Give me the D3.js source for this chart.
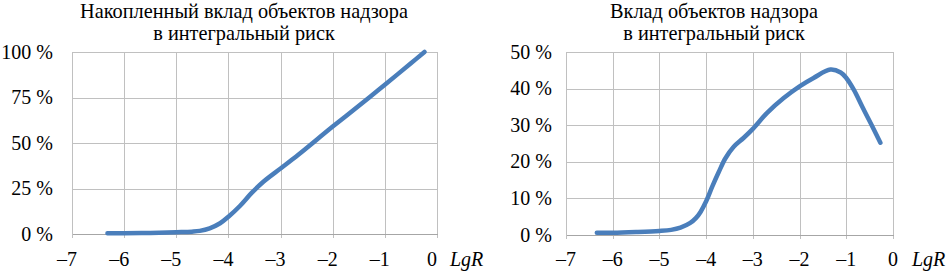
<!DOCTYPE html>
<html><head><meta charset="utf-8">
<script src="https://cdn.jsdelivr.net/npm/d3@7"></script>
<style>
html,body{margin:0;padding:0;background:#fff;}
svg{display:block;}
</style></head>
<body>
<svg id="chart" width="946" height="273"></svg>
<script>
// ---- data ----
const xTicks = [-7, -6, -5, -4, -3, -2, -1, 0];
const leftYTicks = [0, 25, 50, 75, 100];
const rightYTicks = [0, 10, 20, 30, 40, 50];
const leftTitle = ["Накопленный вклад объектов надзора", "в интегральный риск"];
const rightTitle = ["Вклад объектов надзора", "в интегральный риск"];
const axisName = "LgR";

const cumLgR = [-6.32, -6.0, -5.5, -5.0, -4.7, -4.55, -4.36, -4.16, -4.0, -3.78, -3.55, -3.33, -3.0, -2.66, -2.0, -1.3, -1.0, -0.5, -0.24];
const cumPct = [0.4, 0.4, 0.6, 1.0, 1.3, 1.7, 3.1, 5.9, 9.5, 15.4, 22.7, 28.7, 36.0, 43.5, 59.0, 75.0, 82.0, 93.8, 100.0];

const contLgR = [-6.34, -6.0, -5.5, -5.0, -4.75, -4.55, -4.34, -4.22, -4.12, -4.0, -3.87, -3.73, -3.59, -3.41, -3.2, -3.0, -2.7, -2.34, -2.0, -1.7, -1.34, -1.12, -1.0, -0.84, -0.66, -0.48, -0.27];
const contPct = [0.6, 0.6, 0.8, 1.1, 1.4, 2.0, 3.3, 4.6, 6.3, 9.2, 13.2, 17.2, 20.9, 24.1, 26.5, 29.0, 33.3, 37.4, 40.6, 42.9, 45.2, 44.4, 42.9, 39.7, 35.1, 30.6, 25.2];

// ---- drawing ----
const FONT = '"Liberation Serif"';
const svg = d3.select("#chart");
const fmtX = v => (v < 0 ? "\u2013" + Math.abs(v) : String(v));
const fmtY = v => v + " %";

function txt(x, y, s, size, anchor) {
  return svg.append("text").attr("x", x).attr("y", y).attr("font-size", size)
    .attr("text-anchor", anchor).attr("fill", "#000").style("font-family", FONT).text(s);
}

function panel(cfg) {
  const x = d3.scaleLinear().domain([-7, 0]).range([cfg.left, cfg.right]);
  const y = d3.scaleLinear().domain([0, cfg.yMax]).range([cfg.bottom, cfg.top]);
  const g = svg.append("g");

  g.append("g").attr("transform", `translate(${cfg.left},0)`)
    .call(d3.axisLeft(y).tickValues(cfg.yTicks).tickSize(-(cfg.right - cfg.left)).tickFormat(""))
    .call(s => s.select(".domain").remove())
    .call(s => s.selectAll("line").attr("stroke", "#c0c0c0").attr("stroke-width", 1).attr("shape-rendering", "crispEdges"));
  g.append("g").attr("transform", `translate(0,${cfg.top})`)
    .call(d3.axisBottom(x).tickValues(xTicks).tickSize(cfg.bottom - cfg.top + 4).tickFormat(""))
    .call(s => s.select(".domain").remove())
    .call(s => s.selectAll("line").attr("stroke", "#c0c0c0").attr("stroke-width", 1).attr("shape-rendering", "crispEdges"));
  g.append("g").attr("transform", `translate(0,${cfg.bottom})`)
    .call(d3.axisBottom(x).tickValues([]).tickSizeOuter(0))
    .call(s => s.select(".domain").attr("stroke", "#a6a6a6").attr("shape-rendering", "crispEdges"));

  cfg.yTicks.forEach(v => txt(cfg.yLabelX, y(v) + 6.5, fmtY(v), 20, "end"));
  xTicks.forEach(v => txt(x(v) + cfg.xLabelDx, 265.5, fmtX(v), 20, "middle"));
  txt(cfg.nameX, 265.5, axisName, 20, "start").style("font-style", "italic");
  cfg.title.forEach((s, i) => txt(cfg.titleX, 18.2 + i * 21.5, s, 20.3, "middle"));

  const pts = cfg.xs.map((v, i) => [v, cfg.ys[i]]);
  g.append("path").datum(pts)
    .attr("fill", "none").attr("stroke", "#4a7ebb").attr("stroke-width", 4.5)
    .attr("stroke-linecap", "round").attr("stroke-linejoin", "round")
    .attr("d", d3.line().x(d => x(d[0])).y(d => y(d[1])).curve(d3.curveCatmullRom.alpha(0.5)));
}

panel({left: 72, right: 437, top: 52, bottom: 234, yMax: 100, yTicks: leftYTicks,
       yLabelX: 53, xLabelDx: -5, nameX: 450, titleX: 244, title: leftTitle,
       xs: cumLgR, ys: cumPct});
panel({left: 566, right: 893, top: 52, bottom: 235, yMax: 50, yTicks: rightYTicks,
       yLabelX: 552, xLabelDx: 0, nameX: 912, titleX: 714, title: rightTitle,
       xs: contLgR, ys: contPct});
</script>
</body></html>
